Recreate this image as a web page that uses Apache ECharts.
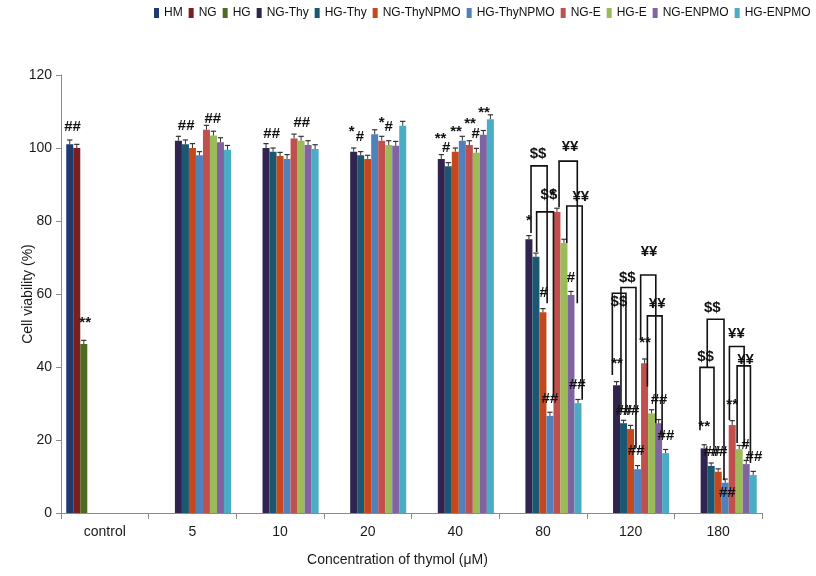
<!DOCTYPE html>
<html>
<head>
<meta charset="utf-8">
<script src="https://cdn.jsdelivr.net/npm/echarts@6/dist/echarts.min.js"></script>
<style>html,body{margin:0;padding:0;background:#fff}#c{width:816px;height:576px}</style>
</head>
<body>
<div id="c"></div>
<script>
// ---- data ----
const categories = ['control', '5', '10', '20', '40', '80', '120', '180'];
const seriesNames = ['HM', 'NG', 'HG', 'NG-Thy', 'HG-Thy', 'NG-ThyNPMO', 'HG-ThyNPMO', 'NG-E', 'HG-E', 'NG-ENPMO', 'HG-ENPMO'];
const colors = ['#1F3A6E', '#7A1F1E', '#4F6A22', '#31234F', '#1B5770', '#C4481B', '#4F81BD', '#C0504D', '#9BBB59', '#8064A2', '#4BACC6'];

const HM         = [101.0, null, null, null, null, null, null, null];
const NG         = [100.0, null, null, null, null, null, null, null];
const HG         = [46.3, null, null, null, null, null, null, null];
const NG_Thy     = [null, 102.0, 100.0, 99.0, 97.0, 75.0, 35.0, 17.7];
const HG_Thy     = [null, 101.0, 99.0, 98.0, 95.0, 70.2, 24.6, 12.9];
const NG_ThyNPMO = [null, 100.0, 97.8, 97.0, 99.0, 55.0, 23.0, 11.3];
const HG_ThyNPMO = [null, 98.0, 97.0, 103.8, 102.0, 26.6, 12.0, 8.3];
const NG_E       = [null, 105.0, 102.6, 102.0, 100.8, 82.5, 41.0, 24.1];
const HG_E       = [null, 103.4, 102.0, 100.8, 98.7, 74.0, 27.3, 17.5];
const NG_ENPMO   = [null, 101.6, 100.8, 100.6, 103.6, 59.7, 24.6, 13.4];
const HG_ENPMO   = [null, 99.5, 99.7, 106.1, 107.9, 30.1, 16.4, 10.4];

// error bar half-lengths (SD)
const HM_err         = [1.2, null, null, null, null, null, null, null];
const NG_err         = [1.0, null, null, null, null, null, null, null];
const HG_err         = [1.0, null, null, null, null, null, null, null];
const NG_Thy_err     = [null, 1.2, 1.2, 1.0, 1.2, 1.0, 1.0, 1.0];
const HG_Thy_err     = [null, 1.2, 1.0, 1.0, 1.0, 1.0, 0.8, 0.8];
const NG_ThyNPMO_err = [null, 1.2, 1.0, 1.0, 1.0, 1.0, 1.0, 0.8];
const HG_ThyNPMO_err = [null, 1.0, 1.2, 1.2, 1.2, 1.0, 1.0, 1.0];
const NG_E_err       = [null, 1.2, 1.2, 1.2, 1.2, 1.0, 1.2, 1.2];
const HG_E_err       = [null, 1.2, 1.2, 1.2, 1.2, 1.0, 1.0, 1.0];
const NG_ENPMO_err   = [null, 1.2, 1.2, 1.2, 1.2, 1.0, 1.0, 1.0];
const HG_ENPMO_err   = [null, 1.2, 1.2, 1.2, 1.2, 1.0, 1.0, 1.0];

const values = [HM, NG, HG, NG_Thy, HG_Thy, NG_ThyNPMO, HG_ThyNPMO, NG_E, HG_E, NG_ENPMO, HG_ENPMO];
const errors = [HM_err, NG_err, HG_err, NG_Thy_err, HG_Thy_err, NG_ThyNPMO_err, HG_ThyNPMO_err, NG_E_err, HG_E_err, NG_ENPMO_err, HG_ENPMO_err];

// significance marks: [category index, bar slot, value, text]
const marks = [
  [0, 0.4, 105.7, '##'], [0, 2.2, 52, '**'],
  [1, 4.1, 106, '##'], [1, 7.9, 108, '##'],
  [2, 3.8, 104, '##'], [2, 8.1, 107, '##'],
  [3, 2.7, 104.5, '*'], [3, 3.9, 103, '#'], [3, 7.0, 107, '*'], [3, 8.0, 105.7, '#'],
  [4, 2.9, 102.5, '**'], [4, 3.7, 100, '#'], [4, 5.1, 104.5, '**'], [4, 7.1, 106.5, '**'], [4, 7.9, 104, '#'], [4, 9.1, 109.5, '**'],
  [5, 3.0, 80, '*'], [5, 4.3, 98.4, '$$'], [5, 5.86, 87.1, '$$'], [5, 6.4, 87, '*'], [5, 5.1, 60.2, '#'], [5, 6.0, 31.4, '##'],
  [5, 8.86, 100.4, '¥¥'], [5, 10.4, 86.7, '¥¥'], [5, 9.0, 64.3, '#'], [5, 9.9, 35.1, '##'],
  [6, 3.06, 40.8, '**'], [6, 4.06, 28, '##'], [6, 5.06, 28, '##'], [6, 5.8, 17, '##'], [6, 7.06, 46.5, '**'], [6, 9.06, 31, '##'], [6, 10.05, 21, '##'],
  [6, 3.34, 57.9, '$$'], [6, 4.53, 64.4, '$$'], [6, 7.64, 71.6, '¥¥'], [6, 8.8, 57.4, '¥¥'],
  [7, 4.16, 56.3, '$$'], [7, 3.2, 42.8, '$$'], [7, 3.0, 23.6, '**'], [7, 4.1, 16.8, '##'], [7, 5.1, 16.8, '##'], [7, 6.3, 5.4, '##'],
  [7, 7.0, 29.5, '**'], [7, 7.6, 49.2, '¥¥'], [7, 8.9, 41.9, '¥¥'], [7, 8.9, 18.6, '#'], [7, 10.1, 15.4, '##']
];

// comparison brackets: [category index, left slot, right slot, top value, left foot value, right foot value]
const brackets = [
  [5, 3.3, 5.6, 95.1, 76.7, 57.5],
  [5, 4.1, 6.5, 82.5, 71.5, 31.8],
  [5, 7.3, 9.9, 96.4, 83.8, 57.5],
  [5, 8.4, 10.6, 84.1, 74.0, 31.0],
  [6, 2.4, 4.34, 60.2, 37.8, 27.7],
  [6, 3.63, 5.77, 61.8, 27.8, 17.8],
  [6, 6.44, 8.6, 65.2, 47.4, 24.6],
  [6, 7.4, 9.5, 54.0, 34.6, 20.9],
  [7, 3.44, 5.83, 53.1, 40.0, 9.0],
  [7, 2.4, 4.4, 39.9, 22.7, 18.2],
  [7, 6.6, 8.7, 45.6, 25.5, 18.2],
  [7, 7.7, 9.6, 40.3, 19.2, 13.7]
];

// ---- chart ----
const FONT = 'Liberation Sans, Arial, Helvetica, sans-serif';
const GAP = 0.12;
const NS = seriesNames.length;

function slotX(api, cat, slot, v) {
  const c = api.coord([cat, v]);
  const band = api.size([1, 0])[0];
  const avail = band * (1 - GAP);
  const bw = avail / NS;
  return [c[0] - avail / 2 + (slot + 0.5) * bw, c[1], bw];
}

const errData = [];
values.forEach((arr, s) => arr.forEach((v, c) => { if (v != null) errData.push([c, s, v, errors[s][c]]); }));

const series = seriesNames.map((n, i) => ({
  name: n, type: 'bar', data: values[i], barGap: '0%', barCategoryGap: (GAP * 100) + '%',
  itemStyle: { color: colors[i] }, z: 2
}));

series.push({
  type: 'custom', name: 'err', z: 5, silent: true,
  encode: { x: 0, y: 2 },
  data: errData,
  renderItem: function (params, api) {
    const c = api.value(0), s = api.value(1), v = api.value(2), e = api.value(3);
    const p = slotX(api, c, s, v);
    const top = api.coord([c, v + e])[1];
    const cw = p[2] * 0.75;
    return {
      type: 'group', children: [
        { type: 'line', shape: { x1: p[0], y1: p[1], x2: p[0], y2: top }, style: { stroke: '#333', lineWidth: 1 } },
        { type: 'line', shape: { x1: p[0] - cw / 2, y1: top, x2: p[0] + cw / 2, y2: top }, style: { stroke: '#333', lineWidth: 1.2 } }
      ]
    };
  }
});

series.push({
  type: 'custom', name: 'brackets', z: 6, silent: true,
  encode: { x: 0, y: 3 },
  data: brackets,
  renderItem: function (params, api) {
    const c = api.value(0);
    const l = slotX(api, c, api.value(1), api.value(4));
    const r = slotX(api, c, api.value(2), api.value(5));
    const t = api.coord([c, api.value(3)])[1];
    return {
      type: 'polyline',
      shape: { points: [[l[0], l[1]], [l[0], t], [r[0], t], [r[0], r[1]]] },
      style: { stroke: '#111', lineWidth: 1.6, fill: null }
    };
  }
});

series.push({
  type: 'custom', name: 'marks', z: 7, silent: true,
  encode: { x: 0, y: 2 },
  data: marks.map(m => [m[0], m[1], m[2]]),
  renderItem: function (params, api) {
    const m = marks[params.dataIndex];
    const p = slotX(api, api.value(0), api.value(1), api.value(2));
    return {
      type: 'text',
      style: { text: m[3], x: p[0], y: p[1], textAlign: 'center', textVerticalAlign: 'middle',
               font: 'bold 15px ' + FONT, fill: '#111' }
    };
  }
});

const chart = echarts.init(document.getElementById('c'), null, { renderer: 'canvas' });
chart.setOption({
  animation: false,
  backgroundColor: '#fff',
  textStyle: { fontFamily: FONT },
  legend: {
    data: seriesNames, top: 2, left: 149, width: 720, itemWidth: 5, itemHeight: 10, itemGap: 6,
    icon: 'rect', textStyle: { fontSize: 12, color: '#111', fontFamily: FONT }
  },
  grid: { left: 61, right: 54, top: 75, bottom: 63, outerBoundsMode: 'none', containLabel: false },
  xAxis: {
    type: 'category', data: categories,
    axisLine: { lineStyle: { color: '#8a8a8a', width: 1 } },
    axisTick: { show: true, alignWithLabel: false, length: 6, lineStyle: { color: '#8a8a8a' } },
    axisLabel: { fontSize: 14, color: '#1a1a1a', margin: 12 },
    name: 'Concentration of thymol (\u03bcM)', nameLocation: 'middle', nameGap: 40, nameMoveOverlap: false,
    nameTextStyle: { fontSize: 14, color: '#1a1a1a', padding: [0, 28, 0, 0] }
  },
  yAxis: {
    type: 'value', min: 0, max: 120, interval: 20,
    axisLine: { show: true, lineStyle: { color: '#8a8a8a', width: 1 } },
    axisTick: { show: true, length: 5, lineStyle: { color: '#8a8a8a' } },
    splitLine: { show: false },
    axisLabel: { fontSize: 14, color: '#1a1a1a', margin: 9 },
    name: 'Cell viability (%)', nameLocation: 'middle', nameGap: 26, nameRotate: 90, nameMoveOverlap: false,
    nameTextStyle: { fontSize: 14, color: '#1a1a1a' }
  },
  series: series
});
</script>
</body>
</html>
